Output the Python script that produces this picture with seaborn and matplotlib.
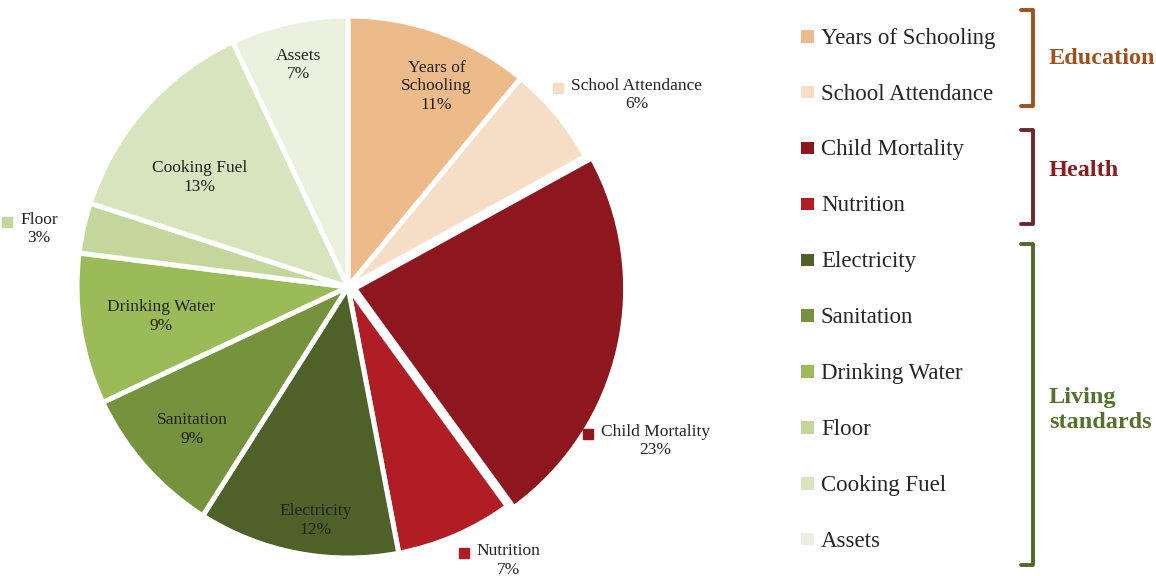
import numpy as np
import matplotlib
matplotlib.use("Agg")
import matplotlib.pyplot as plt
import seaborn as sns

# indicator weights (%), clockwise from 12 o'clock
indicators = ['Years of Schooling', 'School Attendance', 'Child Mortality', 'Nutrition',
              'Electricity', 'Sanitation', 'Drinking Water', 'Floor', 'Cooking Fuel', 'Assets']
pie_labels = ['Years of\nSchooling', 'School Attendance', 'Child Mortality', 'Nutrition',
              'Electricity', 'Sanitation', 'Drinking Water', 'Floor', 'Cooking Fuel', 'Assets']
shares = [11, 6, 23, 7, 12, 9, 9, 3, 13, 7]
colors = ['#EDBB8A', '#F6DEC6', '#8E161E', '#B11D25', '#4E6128',
          '#76923C', '#9BBB59', '#C3D69B', '#D7E4BD', '#EBF1DE']
explode = [0, 0, 0.025, 0, 0, 0, 0, 0, 0, 0]

# label placement: radius (fraction of pie radius), angle shift (deg), outside-with-marker flag
label_r = [0.81, 1.28, 1.27, 1.17, 0.87, 0.78, 0.70, 1.16, 0.68, 0.84]
label_shift = [-4, -6, -14, 7, 3, 1, 0, 2, 5, 0]
outside = [False, True, True, True, False, False, False, True, False, False]

groups = ['Education', 'Health', 'Living\nstandards']
group_colors = ['#A0521E', '#8E1B1E', '#55712E']
bracket_colors = ['#A0521E', '#6B2A2A', '#4E6B2A']

sns.set_theme(style='white')
plt.rcParams['font.family'] = ['Liberation Serif', 'DejaVu Serif']

fig = plt.figure(figsize=(11.56, 5.76), dpi=100)
ax = fig.add_axes([77 / 1156, 18 / 576, 542 / 1156, 542 / 576])

wedges, _ = ax.pie(shares, colors=colors, startangle=90, counterclock=False,
                   explode=explode, radius=1,
                   wedgeprops=dict(edgecolor='white', linewidth=3.6))
ax.set_xlim(-1, 1)
ax.set_ylim(-1, 1)
ax.set_aspect('equal')
ax.axis('off')

lab_fs = 12.5
texts = []
for w, name, val, r, sh, out in zip(wedges, pie_labels, shares, label_r, label_shift, outside):
    mid = np.deg2rad((w.theta1 + w.theta2) / 2 + sh)
    x, y = r * np.cos(mid), r * np.sin(mid)
    t = ax.text(x, y, f'{name}\n{val}%', ha='center', va='center', fontsize=lab_fs,
                color='#222222', linespacing=1.2, clip_on=False)
    texts.append((t, w, out, name))

fig.canvas.draw()
rend = fig.canvas.get_renderer()
inv = ax.transData.inverted()
for t, w, out, name in texts:
    if not out:
        continue
    bb = t.get_window_extent(rend)
    tmp = ax.text(0, 0, name, fontsize=lab_fs)
    nb = tmp.get_window_extent(rend)
    tmp.remove()
    cx = (bb.x0 + bb.x1) / 2
    x0 = cx - nb.width / 2 - 13
    y0 = bb.y1 - nb.height / 2 - 2
    mx, my = inv.transform((x0, y0))
    ax.plot(mx, my, marker='s', ms=7, color=w.get_facecolor(), clip_on=False)

# legend built from the pie wedges
fig.legend(wedges, indicators, loc='upper left', bbox_to_anchor=(798 / 1156, 1 - 27 / 576),
           frameon=False, fontsize=16.5, handlelength=0.8, handleheight=0.8,
           handletextpad=0.2, labelspacing=1.49, borderaxespad=0, borderpad=0)

# group brackets and titles (pixels from the top edge)
bracket_top = [10, 130, 244]
bracket_bot = [106, 224, 565]
title_y = [58, 170, 410]
for gname, gc, bc, t0, b0, ty in zip(groups, group_colors, bracket_colors,
                                     bracket_top, bracket_bot, title_y):
    top = 1 - t0 / 576
    bot = 1 - b0 / 576
    xr = 1033 / 1156
    xl = 1021 / 1156
    fig.add_artist(plt.Line2D([xl, xr, xr, xl], [top, top, bot, bot], color=bc, lw=2.8,
                              solid_joinstyle='round', solid_capstyle='round'))
    fig.text(1049 / 1156, 1 - ty / 576, gname, color=gc, fontsize=17.5,
             fontweight='bold', ha='left', va='center', linespacing=1.25)

fig.savefig('out.png', dpi=100)
